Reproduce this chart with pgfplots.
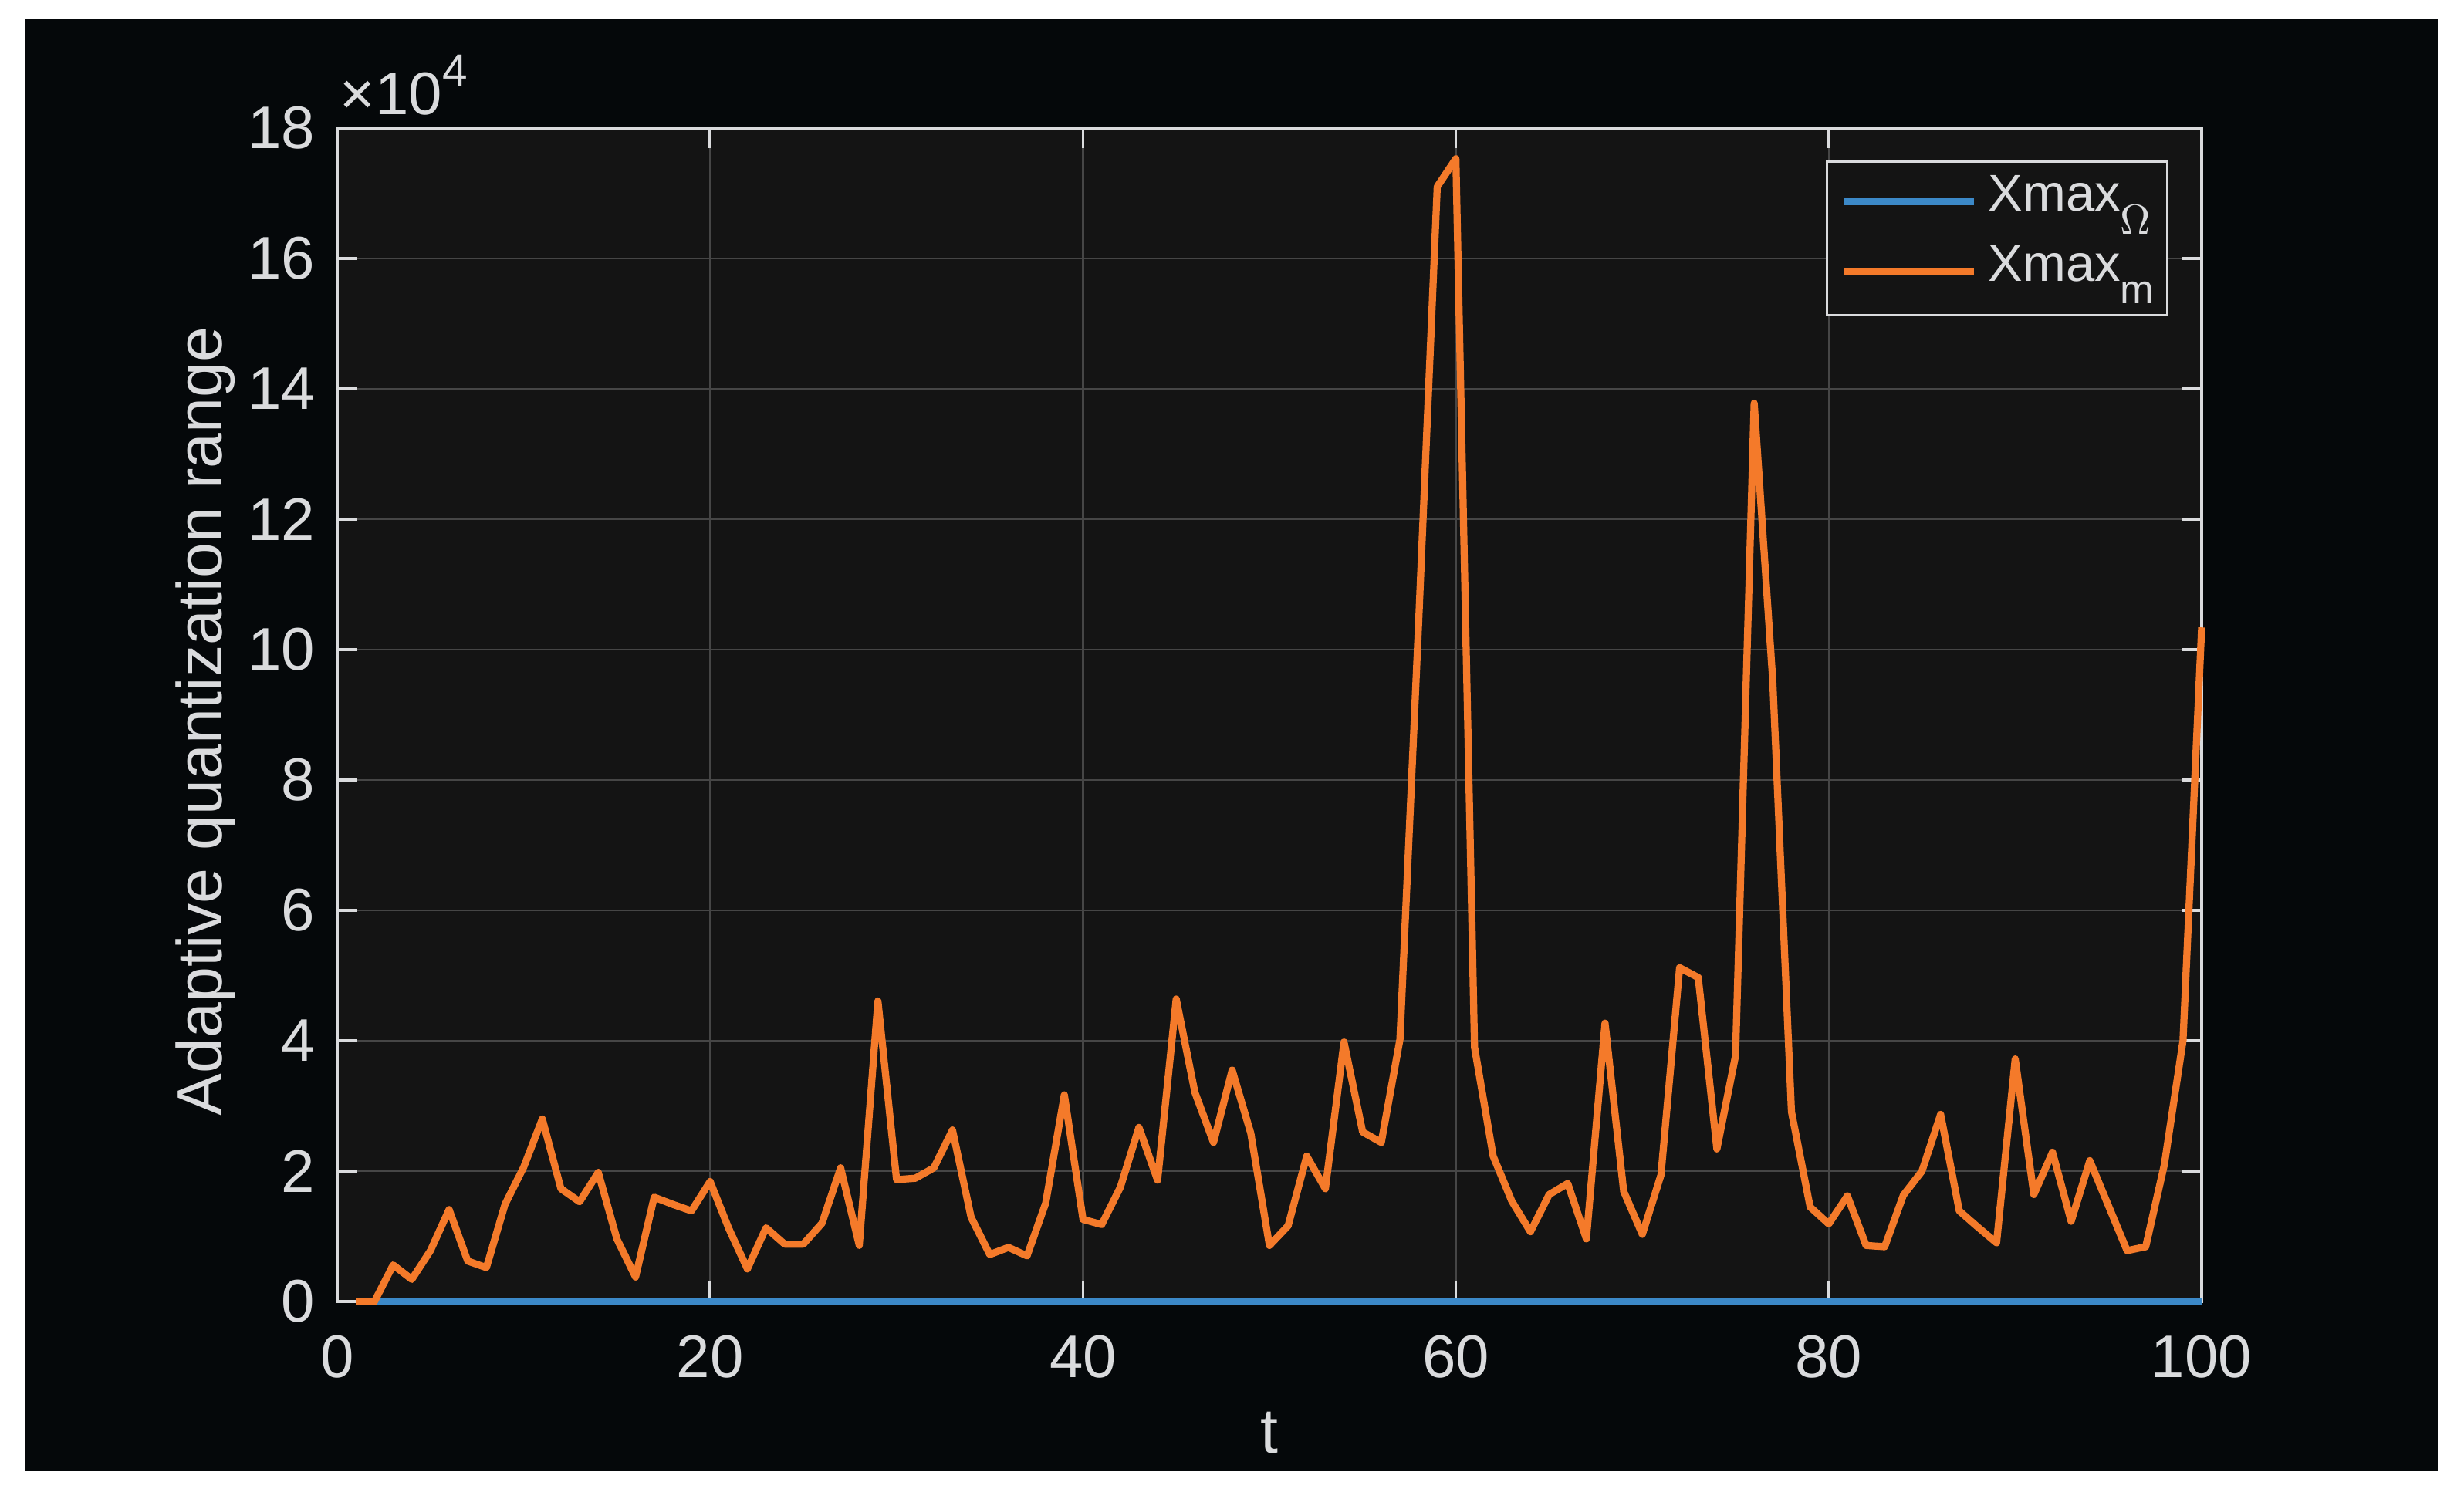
\documentclass[border=0pt]{standalone}
\usepackage{fontspec}
\setmainfont{Liberation Sans}
\usepackage{pgfplots}
\usepackage{pgfplotstable}
\pgfplotsset{compat=1.18}

\definecolor{figbg}{HTML}{05080A}
\definecolor{axbg}{HTML}{141414}
\definecolor{axfg}{HTML}{DADBDD}
\definecolor{gridc}{HTML}{464646}
\definecolor{xblue}{HTML}{3C89C8}
\definecolor{xorange}{HTML}{F47A2A}

% t, Xmax_Omega, Xmax_m
\pgfplotstableread{
t Xo Xm
1 0 0
2 0 0
3 0 5600
4 0 3400
5 0 7800
6 0 14100
7 0 6200
8 0 5200
9 0 14900
10 0 20600
11 0 28000
12 0 17300
13 0 15300
14 0 19800
15 0 9600
16 0 3750
17 0 16000
18 0 14900
19 0 13900
20 0 18400
21 0 11200
22 0 5000
23 0 11300
24 0 8800
25 0 8800
26 0 12000
27 0 20500
28 0 8600
29 0 46100
30 0 18700
31 0 18900
32 0 20500
33 0 26300
34 0 12900
35 0 7200
36 0 8300
37 0 7000
38 0 15100
39 0 31700
40 0 12600
41 0 11800
42 0 17500
43 0 26700
44 0 18600
45 0 46400
46 0 32100
47 0 24400
48 0 35500
49 0 25800
50 0 8600
51 0 11600
52 0 22300
53 0 17300
54 0 39800
55 0 26000
56 0 24400
57 0 40200
58 0 104000
59 0 171000
60 0 175300
61 0 39000
62 0 22300
63 0 15400
64 0 10700
65 0 16400
66 0 18100
67 0 9600
68 0 42700
69 0 16900
70 0 10300
71 0 19400
72 0 51200
73 0 49700
74 0 23400
75 0 37700
76 0 137800
77 0 95000
78 0 29100
79 0 14500
80 0 11900
81 0 16200
82 0 8600
83 0 8400
84 0 16300
85 0 20000
86 0 28700
87 0 13900
88 0 11400
89 0 9000
90 0 37200
91 0 16400
92 0 22900
93 0 12300
94 0 21600
95 0 14700
96 0 7800
97 0 8400
98 0 21000
99 0 40000
100 0 103400
}\datatable

\begin{document}
\begin{tikzpicture}
\fill[white] (0,0) rectangle (638.6bp,388.6bp);
\fill[figbg] (6.6bp,7.2bp) rectangle (631.8bp,383.6bp);
\begin{axis}[
  at={(87.4bp,51.2bp)}, anchor=south west,
  scale only axis, width=483.2bp, height=304.2bp,
  xmin=0, xmax=100, ymin=0, ymax=180000,
  clip=false,
  axis background/.style={fill=axbg},
  axis line style={draw=axfg, line width=0.7bp},
  tick style={color=axfg, line width=0.7bp},
  major tick length=5.3bp,
  tick align=inside,
  grid=major,
  major grid style={color=gridc, line width=0.5bp},
  xtick={0,20,40,60,80,100},
  ytick={0,20000,40000,60000,80000,100000,120000,140000,160000,180000},
  yticklabels={0,2,4,6,8,10,12,14,16,18},
  scaled y ticks=false,
  /pgf/number format/assume math mode=true,
  xticklabel style={anchor=base, yshift=-19.8bp, text=axfg, font=\fontsize{15.6bp}{18bp}\selectfont},
  yticklabel style={anchor=east, inner sep=0pt, xshift=-5.6bp, text=axfg, font=\fontsize{15.6bp}{18bp}\selectfont},
  xlabel={t},
  ylabel={Adaptive quantization range},
  xlabel style={at={(axis description cs:0.5,-0.1295)}, anchor=base, text=axfg, font=\fontsize{16.5bp}{19bp}\selectfont},
  ylabel style={at={(axis description cs:-0.0617,0.4944)}, anchor=base, rotate=0, text=axfg, font=\fontsize{16.5bp}{19bp}\selectfont},
  legend style={
    at={(0.9822,0.9724)}, anchor=north east,
    draw=axfg, line width=0.6bp, fill=axbg, text=axfg,
    font=\fontsize{13.4bp}{16bp}\selectfont,
    inner xsep=3.4bp, inner ysep=2bp,
    row sep=0.6bp,
    nodes={inner sep=0pt, text height=10.9bp, text depth=6.7bp},
    /tikz/every odd column/.append style={column sep=2.8bp},
  },
  legend cell align=left,
  legend image code/.code={\draw[#1] (0bp,0.5bp) -- (33.8bp,0.5bp);},
  every axis plot/.append style={line width=1.85bp, line join=round},
]
\addplot[xblue] table[x=t, y=Xo] {\datatable};
\addlegendentry{Xmax\raisebox{-6bp}{\fontsize{10.8bp}{12bp}\selectfont$\Omega$}\hspace{3bp}}
\addplot[xorange] table[x=t, y=Xm] {\datatable};
\addlegendentry{Xmax\raisebox{-5.8bp}{\fontsize{10.5bp}{12bp}\selectfont m}\hspace{3bp}}

\node[anchor=base west, inner sep=0pt, text=axfg, font=\fontsize{15.6bp}{18bp}\selectfont]
  at (axis description cs:0.0012,1.0112) {×10\raisebox{7.5bp}{\fontsize{11.7bp}{14bp}\selectfont 4}};
\end{axis}
\end{tikzpicture}
\end{document}
